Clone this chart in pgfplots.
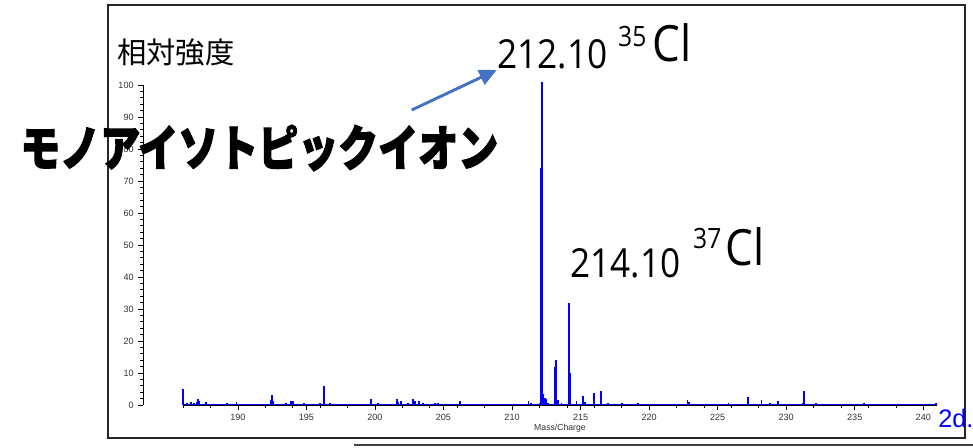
\documentclass[border=0pt]{standalone}
\usepackage{fontspec}
\usepackage{pgfplots}
\pgfplotsset{compat=1.18}
\usetikzlibrary{arrows.meta}
\setmainfont{Liberation Sans}
\newfontfamily\cjk{Noto Sans CJK JP}
\newfontfamily\cjkheavy{Noto Sans CJK JP}[BoldFeatures={FakeBold=2.5}]
\newfontfamily\opensans{Open Sans}
\definecolor{arrowblue}{RGB}{68,114,196}
\definecolor{tickgray}{RGB}{50,50,50}
\pgfplotstableread{
x h
186.0 5
186.3 0.6
186.6 0.8
186.8 0.7
187.0 0.8
187.1 1.8
187.2 1.2
187.7 0.8
189.2 0.7
189.9 0.8
192.4 1.5
192.5 3.0
192.6 1.2
193.5 0.6
193.9 1.4
194.0 1.2
194.8 0.5
196.0 0.7
196.3 5.8
196.7 0.5
199.7 1.8
200.2 0.6
201.6 1.8
201.7 1.0
201.9 1.3
202.4 0.6
202.8 1.8
202.9 1.2
203.2 1.3
203.5 0.6
204.4 0.6
204.6 0.5
206.2 1.3
211.2 1.3
211.4 0.6
212.0 0.6
212.11 74
212.2 101
212.3 3.5
212.4 2.3
212.5 2.0
212.6 0.6
213.1 11.8
213.2 14
213.35 1.5
213.6 0.6
214.18 32
214.26 10
214.7 1.3
215.2 2.9
215.3 0.8
216.0 3.8
216.5 4.4
217.0 0.7
218.0 0.6
219.2 0.5
222.8 1.7
222.9 0.8
225.8 0.5
227.2 2.5
228.2 1.7
228.8 0.6
229.4 1.3
231.2 0.6
231.3 4.4
232.2 0.5
234.3 0.4
235.7 0.6
240.9 0.5
}\spectrum
\begin{document}
\begin{tikzpicture}
\useasboundingbox (0,0) rectangle (729.75pt,335.25pt);
% frame
\draw[line width=1.9pt, draw=black!85] (81pt,6.75pt) rectangle (723.75pt,331.5pt);
\draw[line width=0.8pt, draw=black!75] (265.5pt,1.5pt) -- (729.75pt,1.5pt);
% main axis
\begin{axis}[
  scale only axis,
  width=565.5pt, height=240pt,
  at={(137.25pt,31.5pt)}, anchor=south west,
  xmin=186, xmax=241, ymin=0, ymax=100,
  axis x line*=bottom, axis y line=none,
  x axis line style={-, line width=0.7pt, black},
  xtick={190,195,...,240},
  minor xtick={186,188,...,240},
  tick align=outside,
  major tick length=3.5pt, minor tick length=2pt,
  every tick/.style={black, line width=0.5pt},
  xticklabel style={font=\fontsize{6.8pt}{7pt}\selectfont, text=tickgray},
  /pgf/number format/assume math mode=true,
  xlabel={Mass/Charge},
  xlabel style={font=\fontsize{6.5pt}{7pt}\selectfont, text=tickgray, yshift=4pt},
  clip=false,
]
\addplot[blue, line width=1.1pt] coordinates {(186,0.2) (240.9,0.2)};
\addplot[ycomb, blue, line width=1.3pt] table[x=x, y=h] {\spectrum};
\end{axis}
% y axis
\begin{axis}[
  scale only axis,
  width=10pt, height=240pt,
  at={(107.25pt,31.5pt)}, anchor=south west,
  xmin=0, xmax=1, ymin=0, ymax=100,
  axis y line*=left, axis x line=none,
  y axis line style={-, line width=0.7pt, black},
  ytick={0,10,...,100},
  minor y tick num=4,
  tick align=outside,
  major tick length=3.5pt, minor tick length=2pt,
  every tick/.style={black, line width=0.5pt},
  yticklabel style={font=\fontsize{6.8pt}{7pt}\selectfont, text=tickgray},
  /pgf/number format/assume math mode=true,
]
\addplot[draw=none] coordinates {(0,0) (1,100)};
\end{axis}
% texts
\node[anchor=west, inner sep=0pt, font=\cjk\fontsize{22pt}{24pt}\selectfont] at (87.75pt,296.25pt) {相対強度};
\node[anchor=base west, inner sep=0pt, xscale=0.88, font=\opensans\fontsize{30pt}{32pt}\selectfont] at (372.75pt,283.5pt) {212.10};
\node[anchor=base west, inner sep=0pt, xscale=0.88, font=\opensans\fontsize{21pt}{23pt}\selectfont] at (463.5pt,300pt) {35};
\node[anchor=base west, inner sep=0pt, xscale=0.88, font=\opensans\fontsize{37.5pt}{40pt}\selectfont] at (489pt,288.75pt) {Cl};
\node[anchor=base west, inner sep=0pt, xscale=0.88, font=\opensans\fontsize{30pt}{32pt}\selectfont] at (427.5pt,127.5pt) {214.10};
\node[anchor=base west, inner sep=0pt, xscale=0.88, font=\opensans\fontsize{21pt}{23pt}\selectfont] at (519.75pt,149.25pt) {37};
\node[anchor=base west, inner sep=0pt, xscale=0.88, font=\opensans\fontsize{37.5pt}{40pt}\selectfont] at (543.75pt,136.5pt) {Cl};
\draw[arrowblue, line width=2.2pt, -{Triangle[length=13pt,width=12pt]}] (308.8pt,252.75pt) -- (372.5pt,282.75pt);
\node[anchor=west, inner sep=0pt, yscale=1.22, font=\cjkheavy\bfseries\fontsize{30pt}{32pt}\selectfont] at (15pt,224.25pt) {モノアイソトピックイオン};
\node[anchor=base west, inner sep=0pt, text=blue, font=\fontsize{19pt}{20pt}\selectfont] at (703.5pt,15pt) {2d.E};
\end{tikzpicture}
\end{document}
